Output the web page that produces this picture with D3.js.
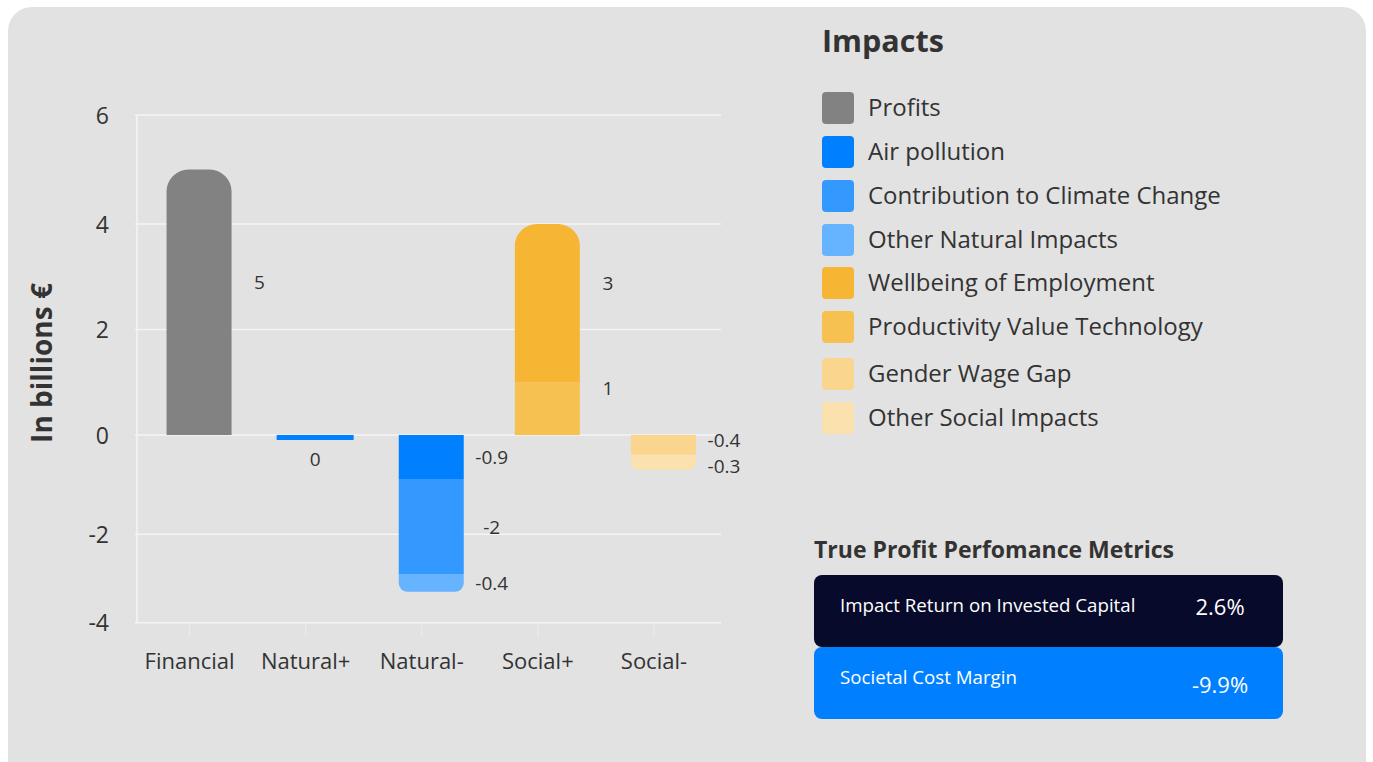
<!DOCTYPE html>
<html>
<head>
<meta charset="utf-8">
<script src="https://cdn.jsdelivr.net/npm/d3@7"></script>
<style>
  html, body { margin: 0; padding: 0; background: #ffffff; }
  svg { display: block; font-family: "Open Sans", "Noto Sans", sans-serif; }
</style>
</head>
<body>
<svg id="chart" width="1373" height="762"></svg>
<script>
// ---- data ----
const categories = ["Financial", "Natural+", "Natural-", "Social+", "Social-"];

const impacts = [
  "Profits",
  "Air pollution",
  "Contribution to Climate Change",
  "Other Natural Impacts",
  "Wellbeing of Employment",
  "Productivity Value Technology",
  "Gender Wage Gap",
  "Other Social Impacts"
];
const impactColors = ["#828282", "#0080ff", "#3399ff", "#66b3ff", "#f6b533", "#f6c151", "#fad58d", "#fae1ae"];

// values per category (billions €); null = impact not present in that category
const profits          = [5,    null, null, null, null];
const airPollution     = [null, 0,    -0.9, null, null];
const climateChange    = [null, null, -2,   null, null];
const otherNatural     = [null, null, -0.4, null, null];
const wellbeing        = [null, null, null, 3,    null];
const productivity     = [null, null, null, 1,    null];
const genderWageGap    = [null, null, null, null, -0.4];
const otherSocial      = [null, null, null, null, -0.3];

const impactValues = [profits, airPollution, climateChange, otherNatural,
                      wellbeing, productivity, genderWageGap, otherSocial];

// stacking order (productivity sits below wellbeing)
const stackOrder = [0, 1, 2, 3, 5, 4, 6, 7];

const yTicks = [-4, -2, 0, 2, 4, 6];

const metricNames  = ["Impact Return on Invested Capital", "Societal Cost Margin"];
const metricValues = [2.6, -9.9];
const metricColors = ["#070a2a", "#0080ff"];

// ---- layout ----
const svg = d3.select("#chart");
const fmt = d3.formatLocale({decimal: ".", thousands: ",", grouping: [3], currency: ["", "€"], minus: "-"}).format("~g");
const textColor = "#333333";

// panel
svg.append("rect").attr("x", 8).attr("y", 7).attr("width", 1358).attr("height", 790)
  .attr("rx", 24).attr("fill", "#e2e2e2");

// scales
const plotLeft = 137, plotRight = 721;
const x = d3.scaleBand().domain(categories).range([131.5, 712]).paddingInner(0).paddingOuter(0);
const y = d3.scaleLinear().domain([-4, -2, 0, 2, 4, 6]).range([622.7, 534.3, 435, 329.5, 224, 115]);
const barW = 65, barShift = 9.5;
const barX = c => x(c) + x.bandwidth() / 2 + barShift - barW / 2;

// gridlines
const g = svg.append("g");
g.selectAll("line.grid").data(yTicks).join("line")
  .attr("class", "grid")
  .attr("x1", plotLeft - 2).attr("x2", plotRight)
  .attr("y1", d => y(d)).attr("y2", d => y(d))
  .attr("stroke", "#f4f4f4").attr("stroke-width", 1.5);
g.append("line").attr("x1", plotLeft).attr("x2", plotLeft).attr("y1", y(6)).attr("y2", y(-4))
  .attr("stroke", "#f4f4f4").attr("stroke-width", 1.5);

// y axis
const yAxis = svg.append("g").attr("transform", `translate(${plotLeft - 28},0)`)
  .call(d3.axisLeft(y).tickValues(yTicks).tickFormat(fmt).tickSize(0));
yAxis.select(".domain").remove();
yAxis.selectAll("text").attr("font-size", 23).attr("fill", textColor)
  .attr("font-family", "Open Sans").attr("dy", "0.35em").attr("x", 0);

// x axis
const xAxis = svg.append("g").attr("transform", `translate(0,${y(-4)})`)
  .call(d3.axisBottom(x).tickSize(14).tickPadding(17));
xAxis.select(".domain").remove();
xAxis.selectAll(".tick line").attr("stroke", "#ececec").attr("stroke-width", 1);
xAxis.selectAll("text").attr("font-size", 22).attr("fill", textColor).attr("font-family", "Open Sans");

// y axis title
svg.append("text")
  .attr("transform", `translate(52,${y(0) - 72}) rotate(-90)`)
  .attr("text-anchor", "middle")
  .attr("font-size", 28).attr("font-weight", 700).attr("fill", textColor)
  .text("In billions €");

// ---- stacked bars ----
const rows = categories.map((c, ci) => {
  const row = {category: c};
  impacts.forEach((k, ki) => { row[k] = impactValues[ki][ci] ?? 0; });
  return row;
});
const stack = d3.stack()
  .keys(stackOrder.map(i => impacts[i]))
  .offset(d3.stackOffsetDiverging);
const series = stack(rows);

// rounded path for a segment; only the outer end is rounded
function segPath(x0, w, yA, yB, roundTop, roundBottom) {
  const top = Math.min(yA, yB), bot = Math.max(yA, yB), h = bot - top;
  const r = Math.min(22, h / 2, w / 2);
  const p = d3.path();
  if (roundTop) {
    p.moveTo(x0, bot);
    p.lineTo(x0, top + r);
    p.arcTo(x0, top, x0 + r, top, r);
    p.lineTo(x0 + w - r, top);
    p.arcTo(x0 + w, top, x0 + w, top + r, r);
    p.lineTo(x0 + w, bot);
    p.closePath();
  } else if (roundBottom) {
    p.moveTo(x0, top);
    p.lineTo(x0 + w, top);
    p.lineTo(x0 + w, bot - r);
    p.arcTo(x0 + w, bot, x0 + w - r, bot, r);
    p.lineTo(x0 + r, bot);
    p.arcTo(x0, bot, x0, bot - r, r);
    p.closePath();
  } else {
    p.rect(x0, top, w, h);
  }
  return p.toString();
}

const segs = [];
series.forEach(s => {
  const ki = impacts.indexOf(s.key);
  s.forEach((d, ci) => {
    const raw = impactValues[ki][ci];
    if (raw === null) return;
    segs.push({key: s.key, ki, ci, cat: categories[ci], v: raw, y0: d[0], y1: d[1]});
  });
});
// mark outermost segment of each stack
categories.forEach((c, ci) => {
  const pos = segs.filter(s => s.ci === ci && s.v > 0);
  const neg = segs.filter(s => s.ci === ci && s.v < 0);
  if (pos.length) pos.reduce((a, b) => (b.y1 > a.y1 ? b : a)).outer = "top";
  if (neg.length) neg.reduce((a, b) => (b.y0 < a.y0 ? b : a)).outer = "bottom";
});

const minStub = 5; // zero-valued impacts still show a thin bar
const bars = svg.append("g");
const labels = [];
segs.forEach(s => {
  const x0 = barX(s.cat);
  let yA = y(s.y0), yB = y(s.y1);
  if (s.v === 0) { yA = y(0); yB = y(0) + minStub; }
  const w = s.v === 0 ? barW + 12 : barW;
  const xx = s.v === 0 ? x0 - 6 : x0;
  bars.append("path")
    .attr("d", segPath(xx, w, yA, yB, s.outer === "top", s.outer === "bottom"))
    .attr("fill", impactColors[s.ki]);

  if (s.v === 0) {
    labels.push({ci: s.ci, text: fmt(s.v), x: x0 + barW / 2, y: y(0) + minStub + 19, fixed: true});
  } else {
    const cy = (y(s.y0) + y(s.y1)) / 2 + (s.v > 0 ? -20 : 0);
    labels.push({ci: s.ci, text: fmt(s.v), x: x0 + barW + 28, y: cy});
  }
});

// spread labels of one column apart when they crowd each other
const minGap = 26;
categories.forEach((c, ci) => {
  const col = labels.filter(l => l.ci === ci && !l.fixed).sort((a, b) => a.y - b.y);
  for (let i = 1; i < col.length; i++) {
    const gap = col[i].y - col[i - 1].y;
    if (gap < minGap) {
      const push = (minGap - gap) / 2;
      col[i - 1].y -= push;
      col[i].y += push;
    }
  }
});

bars.selectAll("text.val").data(labels).join("text")
  .attr("class", "val")
  .attr("x", d => d.x).attr("y", d => d.y).attr("dy", "0.35em")
  .attr("text-anchor", "middle")
  .attr("font-size", 19).attr("fill", textColor)
  .text(d => d.text);

// ---- legend ----
svg.append("text").attr("x", 822).attr("y", 52)
  .attr("font-size", 30.5).attr("font-weight", 700).attr("fill", textColor).text("Impacts");

const legendY = [108, 152, 196, 240, 283, 327, 374, 418];
const leg = svg.append("g").selectAll("g").data(impacts).join("g")
  .attr("transform", (d, i) => `translate(822,${legendY[i]})`);
leg.append("rect").attr("x", 0).attr("y", -16).attr("width", 32).attr("height", 32).attr("rx", 4)
  .attr("fill", (d, i) => impactColors[i]);
leg.append("text").attr("x", 46).attr("y", 0).attr("dy", "0.35em")
  .attr("font-size", 24).attr("fill", textColor).text(d => d);

// ---- metrics ----
svg.append("text").attr("x", 814).attr("y", 558)
  .attr("font-size", 23).attr("font-weight", 700).attr("fill", textColor)
  .text("True Profit Perfomance Metrics");

const boxY = [575, 647], boxH = 72;
metricNames.forEach((name, i) => {
  svg.append("rect").attr("x", 814).attr("y", boxY[i]).attr("width", 469).attr("height", boxH)
    .attr("rx", 8).attr("fill", metricColors[i]);
  svg.append("text").attr("x", 840).attr("y", boxY[i] + 30).attr("dy", "0.35em")
    .attr("font-size", 18.7).attr("fill", "#ffffff").text(name);
  svg.append("text").attr("x", 1220).attr("y", boxY[i] + 32 + i * 6).attr("dy", "0.35em")
    .attr("text-anchor", "middle")
    .attr("font-size", 22).attr("fill", "#ffffff").text(fmt(metricValues[i]) + "%");
});
</script>
</body>
</html>
